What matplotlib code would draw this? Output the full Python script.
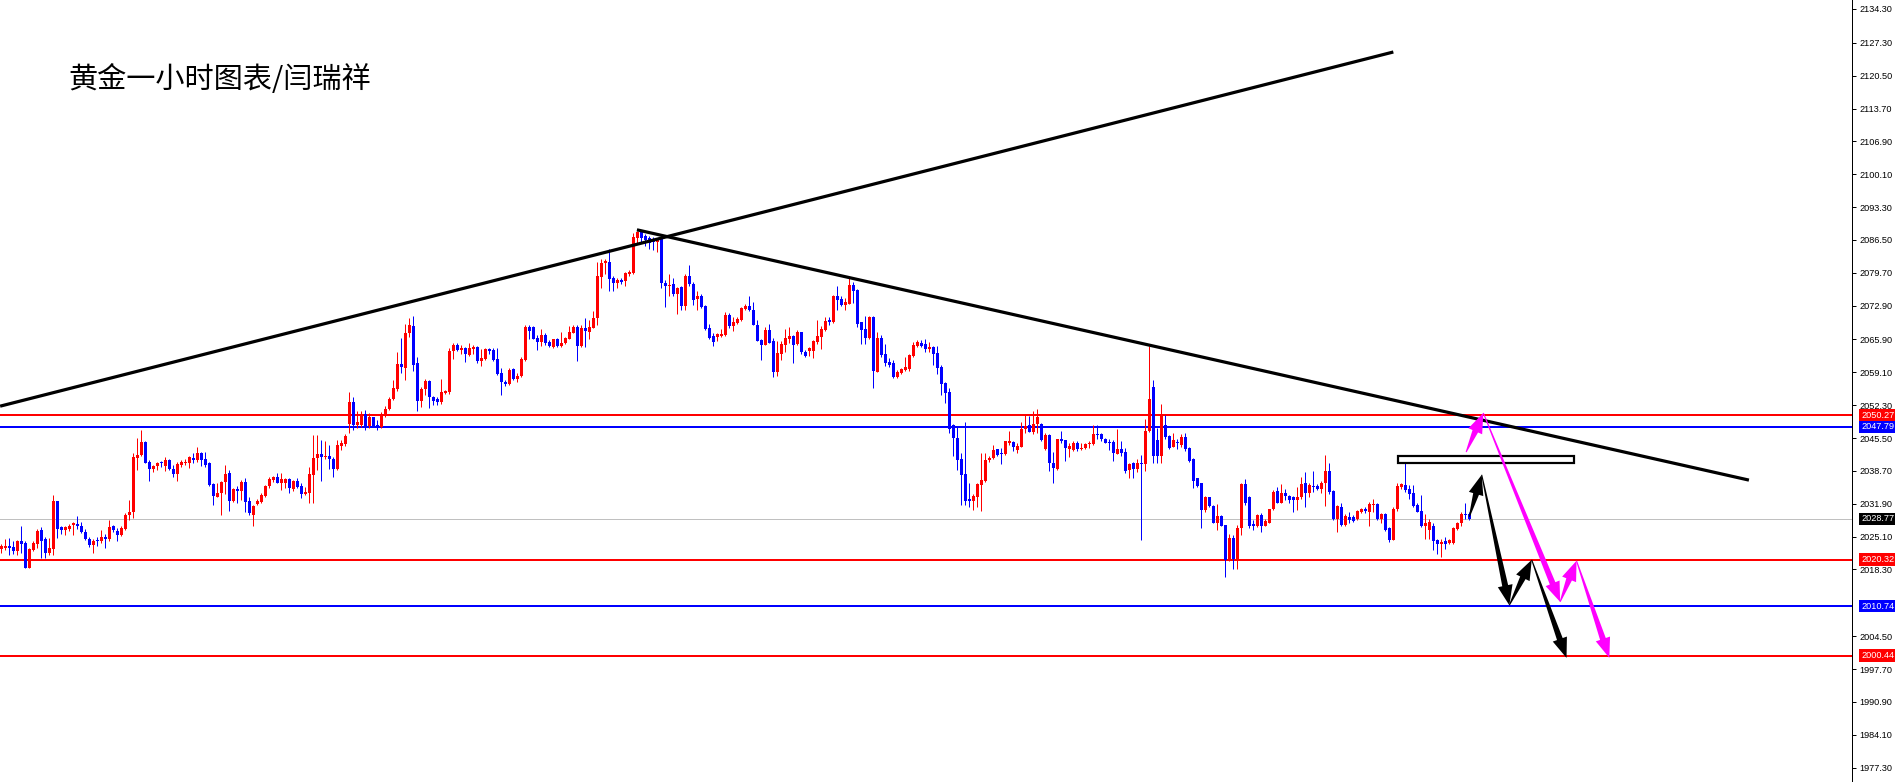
import numpy as np
import matplotlib
matplotlib.use('Agg')
import matplotlib.pyplot as plt
from matplotlib.patches import Polygon, Rectangle
import matplotlib.transforms as mtransforms

plt.rcParams['font.family'] = ['Noto Sans CJK SC', 'DejaVu Sans']

title = '黄金一小时图表/闫瑞祥'

# 1 hour XAUUSD candles
opens = [
    2022.5, 2022.8, 2023.2, 2023.0, 2022.2, 2024.2, 2023.8, 2018.7, 2022.4, 2023.6,
    2026.5, 2024.7, 2021.8, 2022.6, 2032.5, 2027.0, 2026.5, 2026.7, 2027.6, 2027.8,
    2027.3, 2026.1, 2024.6, 2023.3, 2024.2, 2024.1, 2025.1, 2024.7, 2027.3, 2026.3,
    2025.5, 2026.6, 2029.5, 2030.1, 2041.4, 2041.9, 2044.6, 2040.5, 2039.0, 2039.7,
    2040.4, 2039.7, 2041.0, 2039.2, 2038.1, 2040.0, 2040.3, 2040.4, 2041.4, 2041.0,
    2042.5, 2041.2, 2040.3, 2036.0, 2033.3, 2034.1, 2036.5, 2038.3, 2032.5, 2035.0,
    2034.6, 2036.5, 2032.5, 2029.6, 2031.8, 2032.2, 2033.5, 2035.5, 2036.8, 2037.5,
    2036.3, 2036.2, 2037.0, 2034.9, 2036.6, 2035.6, 2034.0, 2034.2, 2037.9, 2041.3,
    2042.2, 2041.5, 2041.8, 2041.1, 2039.0, 2043.9, 2044.2, 2048.4, 2053.0, 2048.2,
    2048.2, 2050.5, 2048.1, 2049.8, 2048.3, 2047.7, 2050.1, 2051.5, 2053.5, 2055.6,
    2060.8, 2060.1, 2067.3, 2068.7, 2061.0, 2053.2, 2055.6, 2057.3, 2053.9, 2053.5,
    2053.0, 2054.9, 2055.0, 2063.6, 2064.8, 2063.7, 2064.1, 2062.7, 2063.9, 2064.4,
    2061.5, 2061.9, 2063.9, 2063.7, 2061.8, 2059.0, 2057.2, 2056.7, 2059.7, 2057.7,
    2058.3, 2061.7, 2068.4, 2068.4, 2066.2, 2065.3, 2066.8, 2065.3, 2064.4, 2065.9,
    2064.6, 2065.1, 2066.1, 2067.3, 2068.5, 2064.6, 2068.3, 2067.5, 2068.3, 2070.3,
    2078.9, 2081.8, 2082.0, 2078.7, 2077.5, 2078.3, 2078.0, 2079.4, 2079.7, 2087.0,
    2088.2, 2087.4, 2087.0, 2086.6, 2086.0, 2086.7, 2077.5, 2077.0, 2077.3, 2075.3,
    2076.7, 2072.9, 2079.0, 2077.4, 2074.3, 2074.9, 2072.8, 2068.2, 2066.7, 2066.5,
    2066.7, 2066.8, 2071.0, 2068.7, 2069.4, 2069.9, 2072.3, 2072.8, 2071.9, 2068.9,
    2065.7, 2064.8, 2067.9, 2065.6, 2059.2, 2063.0, 2064.8, 2066.1, 2066.7, 2065.0,
    2067.5, 2063.4, 2063.5, 2063.5, 2065.3, 2066.5, 2067.9, 2069.8, 2069.6, 2074.9,
    2074.2, 2073.0, 2073.2, 2077.2, 2076.1, 2069.5, 2068.1, 2066.3, 2070.6, 2059.2,
    2066.3, 2062.9, 2061.2, 2061.0, 2058.1, 2058.9, 2059.6, 2059.7, 2062.5, 2064.6,
    2065.2, 2065.0, 2063.9, 2064.3, 2063.2, 2060.3, 2056.8, 2055.1, 2048.2, 2045.6,
    2041.2, 2038.1, 2032.8, 2032.5, 2033.2, 2035.7, 2036.6, 2041.0, 2041.3, 2043.2,
    2042.3, 2042.1, 2044.4, 2044.6, 2043.0, 2043.7, 2047.3, 2048.2, 2046.8, 2048.5,
    2048.5, 2043.2, 2046.1, 2040.4, 2039.2, 2045.3, 2045.0, 2043.2, 2043.0, 2044.5,
    2043.2, 2043.5, 2044.2, 2044.3, 2046.3, 2046.3, 2045.4, 2044.7, 2044.7, 2042.3,
    2043.2, 2042.6, 2038.8, 2040.3, 2039.2, 2040.3, 2040.1, 2046.9, 2056.0, 2045.1,
    2041.8, 2048.2, 2045.9, 2043.7, 2044.7, 2044.1, 2045.8, 2043.5, 2041.1, 2037.2,
    2036.1, 2030.6, 2033.2, 2031.5, 2028.0, 2029.4, 2027.5, 2020.4, 2024.9, 2020.4,
    2026.8, 2036.0, 2033.2, 2027.7, 2027.2, 2029.6, 2027.4, 2028.0, 2030.8, 2034.5,
    2032.1, 2034.1, 2033.5, 2033.2, 2032.7, 2033.2, 2036.1, 2034.2, 2035.6, 2035.6,
    2035.0, 2036.3, 2038.7, 2034.5, 2028.7, 2031.3, 2027.5, 2029.2, 2029.2, 2028.7,
    2030.3, 2030.9, 2030.1, 2031.6, 2031.9, 2028.8, 2029.7, 2026.8, 2024.5, 2030.8,
    2035.4, 2035.8, 2034.9, 2034.2, 2031.6, 2030.5, 2027.3, 2026.5, 2027.2, 2024.3,
    2023.6, 2024.1, 2023.7, 2023.7, 2026.6, 2027.9, 2029.8, 2029.8,
]
highs = [
    2023.6, 2024.6, 2024.8, 2024.1, 2024.4, 2027.3, 2024.1, 2022.7, 2024.1, 2026.6,
    2027.0, 2025.0, 2024.9, 2033.7, 2032.5, 2027.3, 2027.2, 2027.7, 2028.1, 2029.4,
    2028.2, 2026.6, 2025.1, 2024.6, 2025.1, 2026.5, 2025.6, 2028.6, 2027.6, 2026.8,
    2027.2, 2029.9, 2032.7, 2042.4, 2045.6, 2047.2, 2044.8, 2040.9, 2039.9, 2040.6,
    2040.8, 2041.5, 2041.1, 2039.9, 2040.6, 2041.0, 2041.1, 2041.7, 2042.5, 2043.7,
    2042.6, 2042.6, 2040.6, 2036.1, 2036.1, 2036.7, 2039.9, 2038.9, 2035.1, 2035.5,
    2036.8, 2037.2, 2033.4, 2031.7, 2032.8, 2034.2, 2035.8, 2037.5, 2037.7, 2038.2,
    2038.2, 2037.2, 2037.3, 2036.8, 2037.2, 2036.3, 2035.3, 2039.6, 2046.2, 2046.2,
    2045.1, 2044.8, 2044.1, 2041.6, 2045.1, 2045.2, 2046.3, 2055.0, 2054.1, 2051.1,
    2051.0, 2051.3, 2050.6, 2049.9, 2049.2, 2050.8, 2052.1, 2053.9, 2057.5, 2063.4,
    2066.3, 2069.1, 2070.3, 2070.8, 2062.2, 2056.0, 2057.7, 2057.5, 2054.3, 2053.9,
    2057.7, 2055.5, 2064.1, 2065.1, 2065.1, 2064.8, 2064.4, 2065.1, 2064.8, 2064.5,
    2063.9, 2064.1, 2064.2, 2064.1, 2064.1, 2059.9, 2057.5, 2060.1, 2059.9, 2058.9,
    2062.3, 2068.8, 2069.0, 2068.6, 2066.8, 2068.1, 2067.2, 2065.8, 2066.1, 2066.2,
    2067.4, 2066.5, 2068.6, 2068.9, 2068.8, 2068.9, 2070.4, 2069.9, 2071.7, 2082.0,
    2082.5, 2082.6, 2084.6, 2079.0, 2078.6, 2078.7, 2079.9, 2080.3, 2088.0, 2088.4,
    2088.6, 2087.7, 2087.3, 2087.2, 2087.0, 2086.7, 2078.2, 2079.5, 2078.7, 2076.8,
    2076.9, 2079.4, 2081.3, 2077.7, 2075.9, 2075.4, 2073.0, 2069.1, 2067.2, 2067.2,
    2068.1, 2071.5, 2071.3, 2070.6, 2070.6, 2072.6, 2073.2, 2074.9, 2073.7, 2069.9,
    2066.1, 2068.4, 2069.1, 2066.3, 2065.5, 2065.5, 2068.0, 2068.4, 2066.8, 2067.9,
    2067.5, 2063.7, 2064.4, 2065.8, 2069.9, 2068.6, 2070.6, 2070.6, 2075.1, 2077.0,
    2074.8, 2074.4, 2078.9, 2077.9, 2076.3, 2069.6, 2070.8, 2070.8, 2070.8, 2067.5,
    2066.8, 2065.0, 2062.0, 2061.7, 2059.6, 2060.1, 2062.2, 2062.9, 2065.4, 2065.7,
    2065.7, 2066.1, 2065.4, 2064.5, 2064.5, 2060.6, 2057.2, 2055.8, 2048.4, 2048.1,
    2042.5, 2048.9, 2036.1, 2033.9, 2036.1, 2042.5, 2042.5, 2041.8, 2044.1, 2043.3,
    2043.4, 2044.9, 2046.9, 2044.8, 2044.4, 2048.9, 2050.5, 2050.0, 2051.2, 2051.5,
    2048.7, 2046.5, 2046.3, 2042.7, 2045.4, 2046.9, 2045.2, 2044.4, 2044.8, 2044.9,
    2044.5, 2044.5, 2044.9, 2048.3, 2048.2, 2046.6, 2045.6, 2045.3, 2045.1, 2047.3,
    2044.8, 2043.4, 2040.4, 2040.6, 2041.1, 2042.0, 2049.5, 2064.5, 2057.5, 2047.5,
    2052.5, 2050.3, 2046.1, 2046.5, 2045.4, 2046.3, 2046.6, 2043.7, 2041.3, 2037.3,
    2036.3, 2033.5, 2033.4, 2031.6, 2031.9, 2029.6, 2027.6, 2025.6, 2025.4, 2027.6,
    2036.1, 2037.0, 2033.5, 2028.5, 2029.8, 2029.9, 2028.8, 2030.9, 2034.8, 2035.4,
    2036.0, 2035.0, 2033.7, 2033.5, 2035.4, 2037.4, 2038.4, 2036.1, 2038.7, 2035.9,
    2036.6, 2042.0, 2040.3, 2034.8, 2031.6, 2032.0, 2029.7, 2030.3, 2029.6, 2030.6,
    2031.1, 2031.2, 2032.2, 2032.8, 2032.0, 2029.9, 2029.9, 2027.0, 2031.2, 2036.1,
    2036.3, 2040.3, 2035.8, 2035.8, 2032.0, 2033.7, 2029.7, 2028.8, 2027.9, 2024.7,
    2024.6, 2025.0, 2024.7, 2027.0, 2028.2, 2030.1, 2032.1, 2030.3,
]
lows = [
    2021.7, 2022.4, 2021.3, 2021.5, 2021.3, 2021.7, 2018.7, 2018.7, 2022.2, 2022.8,
    2020.6, 2020.6, 2021.2, 2021.2, 2024.9, 2025.7, 2025.4, 2026.2, 2025.4, 2026.6,
    2025.9, 2024.4, 2023.0, 2021.7, 2023.1, 2023.7, 2022.8, 2024.1, 2026.1, 2024.3,
    2025.2, 2026.4, 2028.6, 2028.9, 2038.9, 2041.7, 2040.3, 2036.7, 2038.4, 2038.8,
    2039.6, 2038.7, 2038.8, 2037.5, 2036.6, 2039.6, 2039.9, 2039.4, 2040.4, 2040.6,
    2039.7, 2039.6, 2035.6, 2031.7, 2033.2, 2029.6, 2033.9, 2030.4, 2032.3, 2032.0,
    2032.7, 2030.1, 2029.6, 2027.3, 2031.6, 2032.0, 2033.4, 2035.2, 2036.5, 2036.1,
    2034.8, 2035.1, 2034.2, 2034.6, 2035.1, 2033.0, 2033.8, 2032.1, 2032.0, 2038.9,
    2036.7, 2041.1, 2039.2, 2037.5, 2038.9, 2043.0, 2043.9, 2046.6, 2047.2, 2047.5,
    2047.7, 2047.2, 2047.5, 2047.9, 2047.2, 2047.5, 2049.9, 2051.3, 2053.4, 2055.3,
    2058.9, 2057.5, 2066.5, 2059.4, 2051.1, 2052.0, 2054.4, 2051.8, 2052.3, 2052.3,
    2052.5, 2054.6, 2054.6, 2061.9, 2063.6, 2063.0, 2061.3, 2062.5, 2062.9, 2061.1,
    2060.5, 2061.7, 2063.0, 2061.5, 2058.6, 2054.4, 2056.2, 2056.5, 2057.5, 2057.2,
    2058.2, 2061.5, 2066.0, 2065.9, 2063.7, 2064.6, 2064.8, 2064.4, 2064.1, 2064.4,
    2064.4, 2064.9, 2065.9, 2067.2, 2061.5, 2064.4, 2064.4, 2066.1, 2068.2, 2068.9,
    2076.6, 2079.5, 2076.0, 2076.0, 2076.5, 2077.3, 2077.0, 2079.0, 2079.5, 2085.7,
    2086.1, 2085.3, 2084.6, 2084.4, 2084.1, 2076.6, 2072.7, 2074.8, 2075.0, 2071.2,
    2072.0, 2072.1, 2077.0, 2073.0, 2072.0, 2072.4, 2067.9, 2066.1, 2064.6, 2065.6,
    2066.5, 2066.6, 2068.2, 2067.7, 2069.1, 2069.8, 2072.0, 2071.7, 2068.8, 2065.5,
    2061.7, 2064.8, 2065.1, 2058.2, 2058.3, 2061.7, 2063.4, 2065.1, 2061.1, 2064.8,
    2063.0, 2062.2, 2062.5, 2062.1, 2065.0, 2063.9, 2067.7, 2069.0, 2069.4, 2071.9,
    2072.9, 2071.9, 2073.2, 2073.5, 2068.4, 2065.0, 2065.0, 2066.1, 2055.9, 2059.2,
    2062.3, 2060.4, 2060.3, 2058.0, 2058.0, 2058.7, 2059.4, 2059.4, 2062.3, 2064.4,
    2064.4, 2063.4, 2063.4, 2060.6, 2058.8, 2054.4, 2052.7, 2046.5, 2041.8, 2038.8,
    2031.6, 2031.6, 2031.3, 2030.6, 2031.3, 2030.5, 2036.5, 2040.6, 2041.1, 2041.7,
    2040.1, 2042.0, 2044.1, 2042.9, 2042.5, 2043.6, 2046.5, 2046.7, 2046.3, 2046.5,
    2044.9, 2043.0, 2038.7, 2036.3, 2038.9, 2044.4, 2040.8, 2041.5, 2042.8, 2042.8,
    2043.0, 2043.2, 2043.4, 2044.1, 2045.4, 2044.8, 2044.4, 2043.0, 2040.8, 2042.1,
    2041.7, 2038.3, 2037.2, 2037.2, 2038.5, 2024.4, 2038.7, 2046.7, 2040.4, 2040.4,
    2040.4, 2045.4, 2043.2, 2043.6, 2043.2, 2043.7, 2042.9, 2040.6, 2035.1, 2035.4,
    2026.9, 2030.3, 2031.3, 2027.9, 2026.5, 2027.2, 2016.8, 2020.1, 2018.5, 2018.4,
    2025.4, 2031.6, 2026.8, 2026.5, 2027.0, 2026.1, 2027.2, 2027.9, 2030.6, 2032.0,
    2032.0, 2032.7, 2032.1, 2030.3, 2030.6, 2032.9, 2031.3, 2033.2, 2034.4, 2034.8,
    2034.1, 2031.5, 2033.9, 2028.5, 2026.1, 2027.2, 2027.4, 2027.9, 2028.2, 2028.5,
    2029.9, 2029.9, 2027.2, 2030.1, 2028.5, 2028.0, 2026.3, 2023.9, 2024.4, 2030.5,
    2034.9, 2034.4, 2032.8, 2031.2, 2030.1, 2027.0, 2024.7, 2024.7, 2022.3, 2021.6,
    2020.9, 2022.5, 2023.5, 2023.6, 2026.5, 2027.2, 2028.8, 2028.5,
]
closes = [
    2023.2, 2023.2, 2022.8, 2022.2, 2024.2, 2023.6, 2018.7, 2022.6, 2023.8, 2026.3,
    2024.3, 2021.8, 2022.8, 2032.5, 2026.7, 2026.4, 2027.0, 2027.4, 2027.8, 2027.2,
    2026.1, 2024.6, 2023.3, 2024.2, 2024.1, 2025.1, 2024.7, 2027.1, 2026.4, 2025.5,
    2026.8, 2029.6, 2030.1, 2041.6, 2042.0, 2044.6, 2040.4, 2039.0, 2039.7, 2040.4,
    2040.3, 2041.0, 2039.1, 2038.1, 2040.2, 2040.6, 2040.6, 2041.5, 2041.0, 2042.4,
    2041.0, 2039.9, 2035.7, 2033.6, 2034.1, 2036.5, 2038.1, 2032.5, 2035.0, 2034.6,
    2036.5, 2032.3, 2030.0, 2031.5, 2032.4, 2033.7, 2035.6, 2037.0, 2037.5, 2036.3,
    2037.0, 2037.0, 2035.1, 2036.6, 2035.4, 2033.9, 2034.2, 2038.1, 2041.3, 2042.2,
    2041.5, 2041.8, 2041.1, 2039.0, 2044.1, 2044.4, 2046.0, 2052.9, 2048.2, 2048.8,
    2050.5, 2048.0, 2049.8, 2048.1, 2047.7, 2050.1, 2051.5, 2053.6, 2055.8, 2060.8,
    2060.3, 2067.3, 2068.9, 2060.6, 2053.2, 2055.7, 2057.3, 2053.9, 2053.2, 2053.0,
    2055.0, 2055.2, 2063.6, 2064.8, 2063.7, 2064.1, 2062.8, 2064.2, 2064.4, 2061.5,
    2062.0, 2063.9, 2063.5, 2061.7, 2058.7, 2057.2, 2056.7, 2059.6, 2057.7, 2058.3,
    2061.9, 2068.4, 2067.7, 2066.0, 2065.4, 2066.8, 2065.2, 2064.6, 2065.9, 2064.6,
    2065.2, 2066.3, 2067.4, 2068.5, 2064.6, 2068.3, 2067.7, 2068.4, 2070.4, 2079.0,
    2081.8, 2082.1, 2078.4, 2077.5, 2078.3, 2077.7, 2079.6, 2079.9, 2087.2, 2088.2,
    2087.0, 2086.5, 2085.8, 2086.0, 2086.7, 2077.5, 2077.0, 2077.2, 2075.3, 2076.6,
    2072.9, 2079.1, 2077.3, 2074.1, 2074.9, 2072.7, 2068.1, 2066.3, 2065.4, 2067.0,
    2067.0, 2071.0, 2068.6, 2069.6, 2070.1, 2072.4, 2072.9, 2071.9, 2068.8, 2065.6,
    2064.8, 2067.9, 2065.2, 2059.2, 2063.2, 2065.0, 2066.3, 2066.7, 2064.8, 2067.5,
    2063.3, 2062.5, 2064.1, 2065.6, 2066.6, 2068.1, 2069.7, 2069.6, 2074.8, 2074.1,
    2073.0, 2073.6, 2077.2, 2076.0, 2069.1, 2067.9, 2066.3, 2070.6, 2059.4, 2066.3,
    2062.7, 2061.0, 2060.6, 2058.1, 2059.2, 2059.8, 2060.3, 2062.7, 2064.8, 2065.3,
    2064.6, 2063.9, 2064.3, 2063.0, 2060.1, 2056.7, 2054.8, 2047.4, 2045.6, 2041.0,
    2037.9, 2032.5, 2032.5, 2033.5, 2036.0, 2036.8, 2041.0, 2041.4, 2043.0, 2042.0,
    2042.1, 2044.8, 2044.8, 2043.7, 2043.9, 2047.4, 2047.9, 2046.8, 2048.5, 2049.8,
    2045.1, 2046.1, 2040.3, 2039.4, 2045.3, 2044.8, 2043.4, 2043.9, 2044.5, 2043.2,
    2043.5, 2044.3, 2044.5, 2046.3, 2046.1, 2045.4, 2044.5, 2044.5, 2042.5, 2043.2,
    2042.5, 2038.7, 2040.1, 2039.1, 2040.3, 2040.1, 2046.9, 2053.5, 2041.8, 2041.8,
    2050.5, 2045.8, 2043.4, 2045.1, 2044.5, 2045.8, 2043.2, 2040.8, 2036.6, 2035.6,
    2030.6, 2033.2, 2031.5, 2028.0, 2029.4, 2027.3, 2020.3, 2024.9, 2020.4, 2026.8,
    2036.0, 2032.0, 2027.3, 2027.2, 2029.6, 2027.3, 2028.4, 2030.8, 2034.4, 2032.1,
    2034.2, 2033.5, 2032.7, 2032.7, 2033.4, 2035.9, 2034.2, 2035.7, 2035.4, 2035.0,
    2036.3, 2038.7, 2034.4, 2028.7, 2031.4, 2027.5, 2029.4, 2028.5, 2028.4, 2030.5,
    2030.8, 2030.4, 2031.9, 2031.9, 2028.8, 2029.7, 2026.5, 2024.5, 2030.9, 2035.6,
    2035.9, 2034.8, 2033.9, 2031.4, 2030.3, 2027.3, 2027.9, 2028.1, 2024.2, 2023.6,
    2023.9, 2023.5, 2024.5, 2026.8, 2028.0, 2029.8, 2029.6, 2028.8,
]

price_ticks = [2134.30, 2127.30, 2120.50, 2113.70, 2106.90, 2100.10, 2093.30,
               2086.50, 2079.70, 2072.90, 2065.90, 2059.10, 2052.30, 2045.50,
               2038.70, 2031.90, 2025.10, 2018.30, 2004.50, 1997.70, 1990.90,
               1984.10, 1977.30]
red_levels = [2050.27, 2020.32, 2000.44]
blue_levels = [2047.79, 2010.74]
last_price = 2028.77

# drawn objects, (bar index, price)
trend_up = [(-0.3, 2052.1), (348.0, 2125.4)]
trend_down = [(158.9, 2088.6), (436.9, 2036.8)]
zone = [(349.2, 2040.4), (393.2, 2041.7)]
black_path = [(367.0, 2029.2), (370.1, 2037.9), (377.0, 2010.9), (382.6, 2020.3), (391.3, 2000.0)]
pink_path = [(366.2, 2042.6), (370.5, 2050.7), (389.7, 2011.6), (393.8, 2020.1), (402.0, 2000.0)]

W, H = 1895, 782
AX_W = 1852
fig = plt.figure(figsize=(W / 100, H / 100), dpi=100)
ax = fig.add_axes([0, 0, AX_W / W, 1])
ax.set_xlim(-0.333, (AX_W - 1.33) / 4)
ax.set_ylim(1974.32, 2136.16)

RED = '#ff0000'
BLUE = '#0000ff'
px = 0.72  # one pixel in points
NUMFONT = ['Liberation Sans', 'DejaVu Sans']

o = np.array(opens); h = np.array(highs); l = np.array(lows); c = np.array(closes)
x = np.arange(len(o))
up = c >= o
cols = np.where(up, RED, BLUE)
hi = np.maximum(h, np.maximum(o, c))
lo = np.minimum(l, np.minimum(o, c))

for lv in red_levels:
    ax.axhline(lv, color=RED, lw=2 * px, zorder=1)
for lv in blue_levels:
    ax.axhline(lv, color=BLUE, lw=2 * px, zorder=1)
ax.axhline(last_price, color='#c0c0c0', lw=1 * px, zorder=1)

ax.vlines(x, lo, hi, colors=cols, lw=1 * px, zorder=2)
body_lo = np.minimum(o, c)
body_h = np.maximum(np.abs(c - o), 0.25)
ax.bar(x, body_h, bottom=body_lo, width=0.75, color=cols, lw=0, zorder=3)

ax.plot(*zip(*trend_up), color='black', lw=3.2 * px, solid_capstyle='butt', zorder=4)
ax.plot(*zip(*trend_down), color='black', lw=3.2 * px, solid_capstyle='butt', zorder=4)

(zx0, zy0), (zx1, zy1) = zone
ax.add_patch(Rectangle((zx0, zy0), zx1 - zx0, zy1 - zy0, facecolor='white',
                       edgecolor='black', lw=2.2 * px, zorder=5))


def taper_arrow(p0, p1, color, tail=1.0, neck=6.0, head_w=15.0, head_len=20.0):
    a = ax.transData.transform(p0)
    b = ax.transData.transform(p1)
    d = b - a
    u = d / np.hypot(*d)
    n = np.array([-u[1], u[0]])
    m = b - u * head_len
    pts = [a + n * tail / 2, m + n * neck / 2, m + n * head_w / 2, b,
           m - n * head_w / 2, m - n * neck / 2, a - n * tail / 2]
    pts = ax.transData.inverted().transform(np.array(pts))
    ax.add_patch(Polygon(pts, closed=True, facecolor=color, edgecolor='none', zorder=6))


for path, col in [(black_path, 'black'), (pink_path, '#ff00ff')]:
    for p0, p1 in zip(path[:-1], path[1:]):
        taper_arrow(p0, p1, col)

# right price scale
for s in ['left', 'top', 'bottom']:
    ax.spines[s].set_visible(False)
ax.spines['right'].set_linewidth(1 * px)
ax.set_xticks([])
ax.yaxis.tick_right()
ax.set_yticks(price_ticks)
ax.set_yticklabels(['%.2f' % t for t in price_ticks])
ax.tick_params(axis='y', length=3, width=px, pad=2.5, labelsize=6.6)
for lab in ax.get_yticklabels():
    lab.set_family(NUMFONT)

trans = mtransforms.blended_transform_factory(ax.transAxes, ax.transData)
tag_x = 1861 / AX_W
tags = [(lv, RED) for lv in red_levels] + [(lv, BLUE) for lv in blue_levels] + [(last_price, 'black')]
for lv, col in tags:
    ax.text(tag_x, lv, '%.2f' % lv, transform=trans, color='white', fontsize=6.6,
            family=NUMFONT, va='center', ha='left', clip_on=False, zorder=10,
            bbox=dict(boxstyle='square,pad=0.2', facecolor=col, edgecolor='none'))

fig.text(68 / W, 1 - 80 / H, title, fontsize=21, va='center', ha='left', color='black')

fig.savefig('out.png', dpi=100, facecolor='white')
